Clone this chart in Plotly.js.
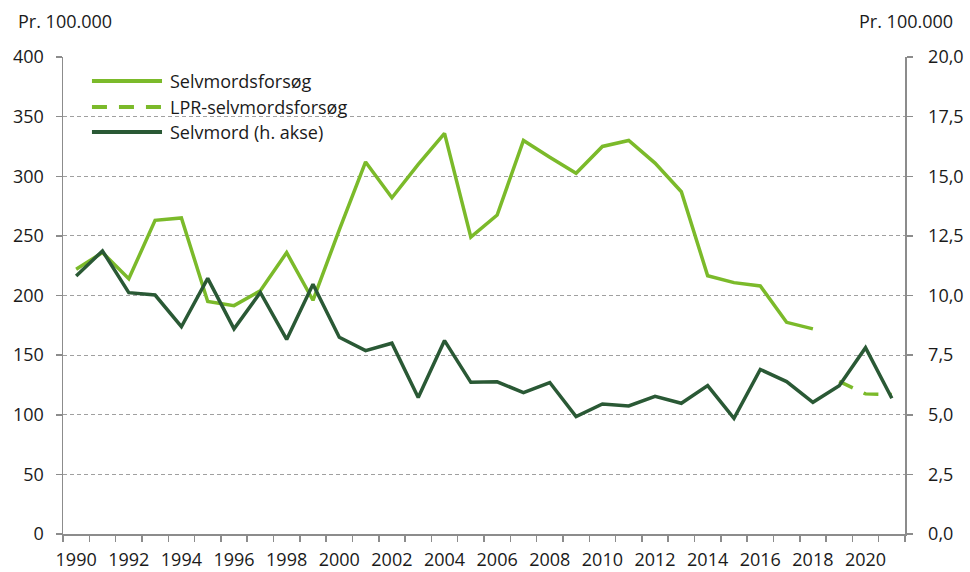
<!DOCTYPE html>
<html>
<head>
<meta charset="utf-8">
<script src="https://cdn.plot.ly/plotly-3.0.1.min.js"></script>
<style>html,body{margin:0;padding:0;background:#fff;}#chart{width:970px;height:572px;}</style>
</head>
<body>
<div id="chart"></div>
<script>
// ---- data ----
const years = [1990,1991,1992,1993,1994,1995,1996,1997,1998,1999,2000,2001,2002,2003,2004,2005,2006,2007,2008,2009,2010,2011,2012,2013,2014,2015,2016,2017,2018,2019,2020,2021];
const selvmordsforsog = [222,236,214,263,265,195,191.5,204,236,196,255,312,282,310,336,249,267.5,330,316,302.5,325,330,311,287,216.6,210.8,208,177.5,172,null,null,null];
const lprSelvmordsforsog = [null,null,null,null,null,null,null,null,null,null,null,null,null,null,null,null,null,null,null,null,null,null,null,null,null,null,null,null,null,128,117.5,117];
const selvmord = [10.82,11.87,10.12,10.02,8.69,10.72,8.60,10.13,8.16,10.47,8.25,7.69,8.0,5.72,8.11,6.36,6.38,5.93,6.35,4.92,5.45,5.37,5.77,5.48,6.22,4.85,6.90,6.39,5.52,6.22,7.81,5.69];
const xTickLabels = ["1990","1992","1994","1996","1998","2000","2002","2004","2006","2008","2010","2012","2014","2016","2018","2020"];
const xTickVals = [1990,1992,1994,1996,1998,2000,2002,2004,2006,2008,2010,2012,2014,2016,2018,2020];
const seriesNames = ["Selvmordsforsøg","LPR-selvmordsforsøg","Selvmord (h. akse)"];
const unitLabel = "Pr. 100.000";

const light = "#7bba2a";
const dark = "#2a5935";
const axisCol = "#8c8c8c";
const txt = "#1a1a1a";
const F = "Open Sans, sans-serif";

const traces = [
  {x: years, y: selvmordsforsog, name: seriesNames[0], type: "scatter", mode: "lines",
   line: {color: light, width: 3.5}, yaxis: "y", connectgaps: false},
  {x: years, y: lprSelvmordsforsog, name: seriesNames[1], type: "scatter", mode: "lines",
   line: {color: light, width: 3.5, dash: "15px,12px"}, yaxis: "y"},
  {x: years, y: selvmord, name: seriesNames[2], type: "scatter", mode: "lines",
   line: {color: dark, width: 3.5}, yaxis: "y2"}
];

// custom legend (paper coordinates)
const legY = [0.9497, 0.8952, 0.8428];
const legDash = ["solid", "15px,12px", "solid"];
const legCol = [light, light, dark];
const shapes = [];
const annotations = [];
for (let i = 0; i < 3; i++) {
  shapes.push({type: "line", xref: "paper", yref: "paper", x0: 0.0344, x1: 0.1176, y0: legY[i], y1: legY[i],
    line: {color: legCol[i], width: 4, dash: legDash[i]}});
  annotations.push({xref: "paper", yref: "paper", x: 0.1247, y: legY[i], xanchor: "left", yanchor: "middle",
    text: seriesNames[i], showarrow: false, font: {family: F, size: 18, color: txt}});
}
annotations.push({xref: "paper", yref: "paper", x: -0.0558, y: 1.0755, xanchor: "left", yanchor: "middle",
  text: unitLabel, showarrow: false, font: {family: F, size: 18, color: txt}});
annotations.push({xref: "paper", yref: "paper", x: 1.0594, y: 1.0755, xanchor: "right", yanchor: "middle",
  text: unitLabel, showarrow: false, font: {family: F, size: 18, color: txt}});

const layout = {
  width: 970, height: 572,
  margin: {l: 63, r: 65, t: 57, b: 38},
  paper_bgcolor: "#fff", plot_bgcolor: "#fff",
  separators: ", ",
  showlegend: false,
  font: {family: F, size: 18, color: txt},
  xaxis: {
    range: [1989.5, 2021.5], tickmode: "array", tickvals: xTickVals, ticktext: xTickLabels,
    ticks: "", showgrid: false, zeroline: false, showline: true, linecolor: axisCol, linewidth: 1.5,
    ticklabelstandoff: 9, tickfont: {family: F, size: 18, color: txt},
    minor: {tickmode: "linear", tick0: 1989.5, dtick: 1, ticks: "outside", ticklen: 6, tickcolor: axisCol, tickwidth: 1.5, showgrid: false}
  },
  yaxis: {
    range: [0, 400], dtick: 50, tick0: 0, ticks: "outside", ticklen: 6, tickcolor: axisCol, tickwidth: 1.5,
    showline: true, linecolor: axisCol, linewidth: 1.5, zeroline: false,
    showgrid: true, gridcolor: "#a0a0a0", gridwidth: 1, griddash: "4px,3px",
    ticklabelstandoff: 8, tickfont: {family: F, size: 18, color: txt}
  },
  yaxis2: {
    range: [0, 20], dtick: 2.5, tick0: 0, overlaying: "y", side: "right", tickformat: ".1f",
    ticks: "outside", ticklen: 6, tickcolor: axisCol, tickwidth: 1.5,
    showline: true, linecolor: axisCol, linewidth: 1.5, zeroline: false, showgrid: false,
    ticklabelstandoff: 12, tickfont: {family: F, size: 18, color: txt}
  },
  shapes: shapes,
  annotations: annotations
};

Plotly.newPlot("chart", traces, layout, {displayModeBar: false, staticPlot: true});
</script>
</body>
</html>
